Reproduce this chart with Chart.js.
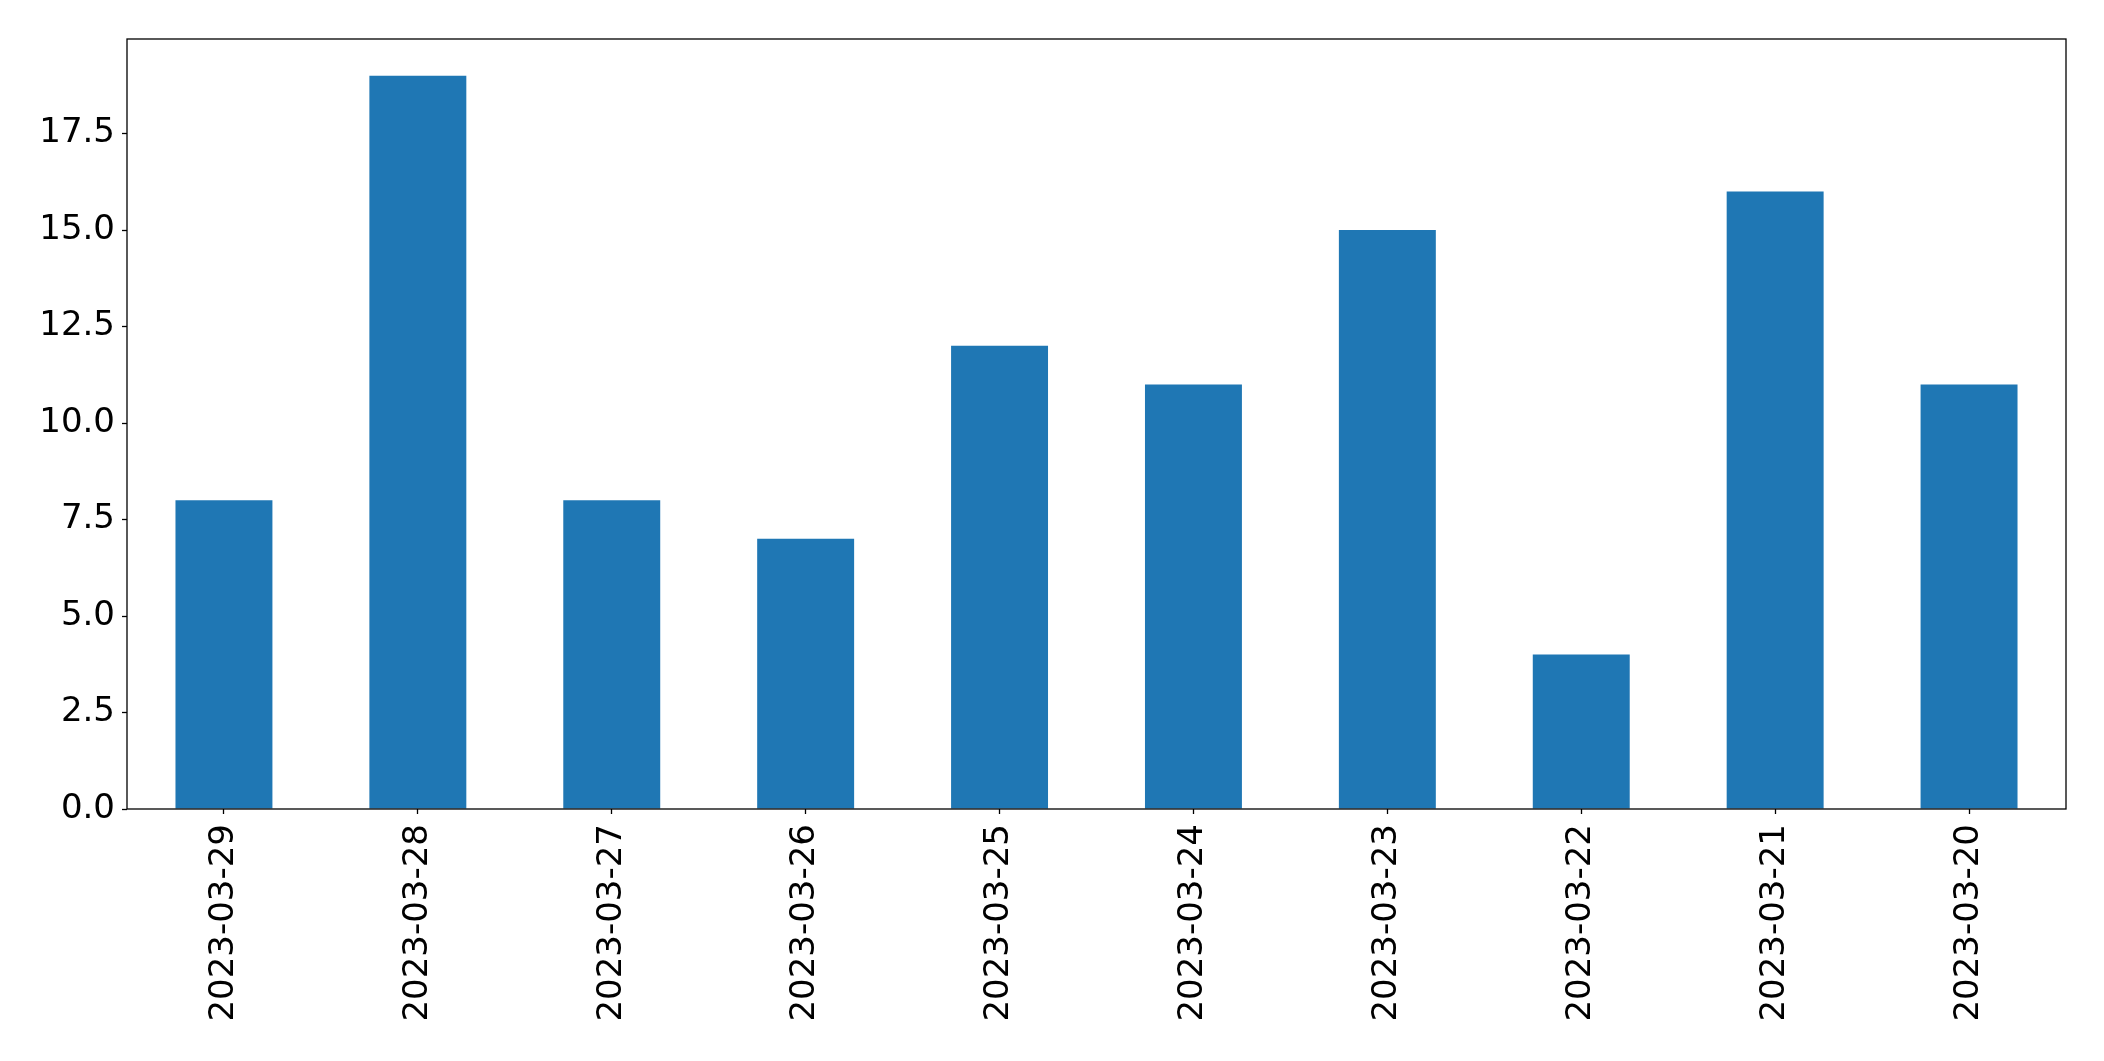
<!DOCTYPE html>
<html>
<head>
<meta charset="utf-8">
<script src="https://cdn.jsdelivr.net/npm/chart.js@4/dist/chart.umd.min.js"></script>
<style>
    html, body { margin: 0; padding: 0; background: #fff; }
    #wrap { width: 2104px; height: 1061px; position: relative; }
</style>
</head>
<body>
<div id="wrap"><canvas id="countChart"></canvas></div>
<script>
const dates = ['2023-03-29', '2023-03-28', '2023-03-27', '2023-03-26', '2023-03-25',
    '2023-03-24', '2023-03-23', '2023-03-22', '2023-03-21', '2023-03-20'];
const counts = [8, 19, 8, 7, 12, 11, 15, 4, 16, 11];
const yTicks = [0, 2.5, 5, 7.5, 10, 12.5, 15, 17.5];
const yMax = 19.95;

// box around the plot area, like the matplotlib spines
const frame = {
    id: 'frame',
    afterDraw(chart) {
        const { ctx, chartArea: a } = chart;
        ctx.save();
        ctx.strokeStyle = '#000';
        ctx.lineWidth = 1.3;
        ctx.strokeRect(a.left, a.top, a.right - a.left, a.bottom - a.top);
        ctx.restore();
    }
};

const font = { family: 'DejaVu Sans', size: 34 };

new Chart(document.getElementById('countChart').getContext('2d'), {
    type: 'bar',
    data: {
        labels: dates,
        datasets: [{
            data: counts,
            backgroundColor: '#1f77b4',
            borderWidth: 0,
            categoryPercentage: 1,
            barPercentage: 0.5
        }]
    },
    options: {
        responsive: true,
        maintainAspectRatio: false,
        animation: false,
        layout: { padding: { top: 39, right: 38, left: 0, bottom: 0 } },
        plugins: {
            legend: { display: false },
            tooltip: { enabled: false }
        },
        scales: {
            x: {
                offset: true,
                grid: {
                    offset: false,
                    drawOnChartArea: false,
                    color: '#000',
                    tickLength: 5,
                    tickWidth: 1.3
                },
                border: { display: false },
                ticks: {
                    color: '#000',
                    font: font,
                    minRotation: 90,
                    maxRotation: 90,
                    padding: 10,
                    autoSkip: false
                },
                afterFit(scale) { scale.height = 252; }
            },
            y: {
                min: 0,
                max: yMax,
                grid: {
                    drawOnChartArea: false,
                    color: '#000',
                    tickLength: 5,
                    tickWidth: 1.3
                },
                border: { display: false },
                ticks: {
                    color: '#000',
                    font: font,
                    padding: 7,
                    callback: v => v.toFixed(1)
                },
                afterBuildTicks(scale) {
                    scale.ticks = yTicks.map(v => ({ value: v }));
                },
                afterFit(scale) { scale.width = 127; }
            }
        }
    },
    plugins: [frame]
});
</script>
</body>
</html>
